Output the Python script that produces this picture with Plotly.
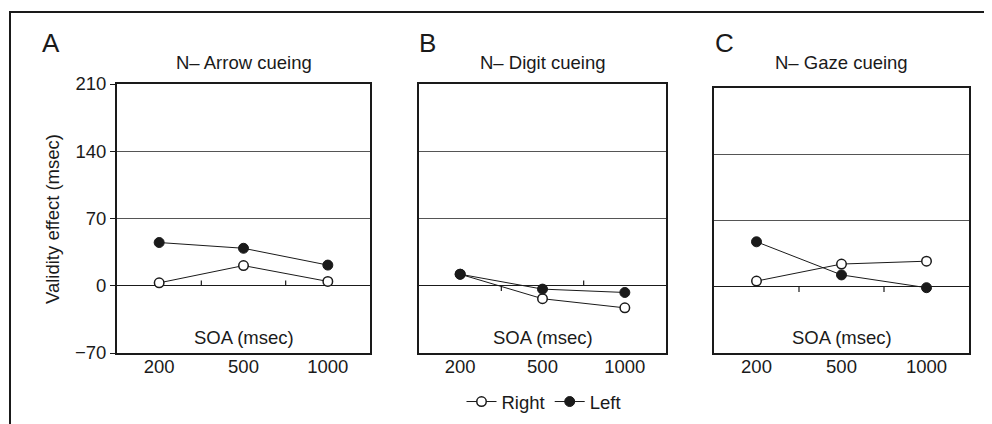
import plotly.graph_objects as go

soa_labels = ["200", "500", "1000"]
panel_letters = ["A", "B", "C"]
panel_titles = ["N\u2013 Arrow cueing", "N\u2013 Digit cueing", "N\u2013 Gaze cueing"]
right_vals = [[3, 21, 4.5], [12, -13.5, -23], [6, 24, 27]]
left_vals = [[45, 39, 21.5], [12, -3.5, -7], [47.5, 12.5, -1]]
y_ticks = [210, 140, 70, 0, -70]
y_tick_labels = ["210", "140", "70", "0", "\u221270"]
zero_tick_dirs = [[1, 1], [-1, 1], [-1, -1]]

W, H = 992, 424
OFF = 8  # page body margin
FONT = "Liberation Sans, Arial, sans-serif"
INK = "#1a1a1a"
FS = 18.5

def px(x):
    return (x - OFF) / W

def py(y):
    return 1 - (y - OFF) / H

x_domains = [(px(117), px(370)), (px(419), px(666)), (px(714), px(969))]
y_domains = [(py(353), py(84)), (py(353), py(84)), (py(353), py(88))]

fig = go.Figure()
cats = list(range(len(soa_labels)))

for i in range(3):
    xa = "x" if i == 0 else f"x{i+1}"
    ya = "y" if i == 0 else f"y{i+1}"
    fig.add_trace(go.Scatter(
        x=cats, y=right_vals[i], mode="lines+markers", name="Right",
        xaxis=xa, yaxis=ya, showlegend=(i == 1), legendrank=1,
        line=dict(color=INK, width=1),
        marker=dict(symbol="circle", size=9.5, color="white", line=dict(color=INK, width=1.5)),
    ))
    fig.add_trace(go.Scatter(
        x=cats, y=left_vals[i], mode="lines+markers", name="Left",
        xaxis=xa, yaxis=ya, showlegend=(i == 1), legendrank=2,
        line=dict(color=INK, width=1),
        marker=dict(symbol="circle", size=10, color=INK, line=dict(color=INK, width=1)),
    ))

layout = dict(
    template="none",
    width=W, height=H, margin=dict(l=0, r=0, t=0, b=0, pad=0, autoexpand=False),
    autosize=False,
    paper_bgcolor="white", plot_bgcolor="white",
    font=dict(family=FONT, size=FS, color=INK),
    showlegend=True,
    legend=dict(orientation="h", x=px(544), xanchor="center", y=py(402), yanchor="middle",
                font=dict(size=FS, family=FONT, color=INK), itemwidth=30,
                tracegroupgap=0, bgcolor="rgba(0,0,0,0)", borderwidth=0),
)

shapes = []
annotations = []
for i in range(3):
    xk = "xaxis" if i == 0 else f"xaxis{i+1}"
    yk = "yaxis" if i == 0 else f"yaxis{i+1}"
    ya = "y" if i == 0 else f"y{i+1}"
    xr = "x" if i == 0 else f"x{i+1}"
    layout[xk] = dict(
        domain=list(x_domains[i]), anchor=ya, range=[-0.5, 2.5], automargin=False,
        tickmode="array", tickvals=cats, ticktext=soa_labels, ticks="",
        ticklabelstandoff=-4,
        showgrid=False, zeroline=False, showline=True, mirror=True,
        linecolor=INK, linewidth=2, tickfont=dict(size=FS, family=FONT, color=INK),
        fixedrange=True,
    )
    layout[yk] = dict(
        domain=list(y_domains[i]), anchor=xr, range=[-70, 210], automargin=False,
        tickmode="array", tickvals=y_ticks, ticktext=y_tick_labels,
        showticklabels=(i == 0), ticks="outside" if i == 0 else "", ticklen=5,
        tickcolor=INK, tickwidth=1.2,
        showgrid=True, gridcolor="#555555", gridwidth=1,
        zeroline=True, zerolinecolor=INK, zerolinewidth=1.2,
        showline=True, mirror=True, linecolor=INK, linewidth=2,
        tickfont=dict(size=FS, family=FONT, color=INK), fixedrange=True,
    )
    for j, d in enumerate(zero_tick_dirs[i]):
        shapes.append(dict(type="line", xref=xr, yref=ya, x0=j + 0.5, x1=j + 0.5,
                           y0=0, y1=5.5 * d, line=dict(color=INK, width=1.2)))
    xc = (x_domains[i][0] + x_domains[i][1]) / 2
    annotations.append(dict(text=panel_titles[i], xref="paper", yref="paper",
                            x=xc, y=py(62), xanchor="center", yanchor="middle",
                            showarrow=False, font=dict(size=FS, family=FONT, color=INK)))
    annotations.append(dict(text="SOA (msec)", xref="paper", yref="paper",
                            x=xc, y=py(337), xanchor="center", yanchor="middle",
                            showarrow=False, font=dict(size=FS, family=FONT, color=INK)))

letter_x = [40, 417, 713]
for i in range(3):
    annotations.append(dict(text=panel_letters[i], xref="paper", yref="paper",
                            x=px(letter_x[i]), y=py(43), xanchor="left", yanchor="middle",
                            showarrow=False, font=dict(size=26, family=FONT, color=INK)))

annotations.append(dict(text="Validity effect (msec)", xref="paper", yref="paper",
                        x=px(52), y=py(219), xanchor="center", yanchor="middle",
                        textangle=-90, showarrow=False,
                        font=dict(size=FS, family=FONT, color=INK)))

shapes.append(dict(type="rect", xref="paper", yref="paper",
                   x0=px(10), x1=px(1010), y0=py(450), y1=py(12),
                   line=dict(color=INK, width=2), layer="below"))

layout["shapes"] = shapes
layout["annotations"] = annotations
fig.update_layout(**layout)
fig.write_html("out.html")
